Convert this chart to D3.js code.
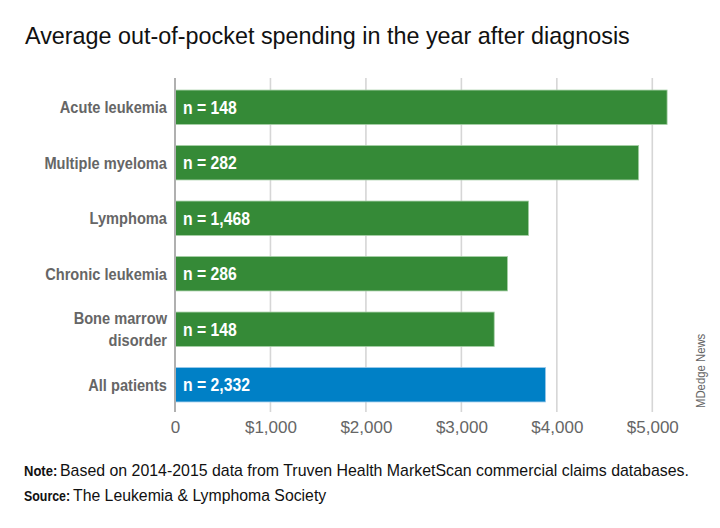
<!DOCTYPE html>
<html>
<head>
<meta charset="utf-8">
<script src="https://cdn.jsdelivr.net/npm/d3@7/dist/d3.min.js"></script>
<style>
  html, body { margin: 0; padding: 0; background: #fff; }
  svg { display: block; }
</style>
</head>
<body>
<svg id="chart" width="720" height="528"></svg>
<script>
// ---- Data ----
const categories = ["Acute leukemia", "Multiple myeloma", "Lymphoma", "Chronic leukemia", "Bone marrow disorder", "All patients"];
const categoryLines = [["Acute leukemia"], ["Multiple myeloma"], ["Lymphoma"], ["Chronic leukemia"], ["Bone marrow", "disorder"], ["All patients"]];
const spending = [5155, 4857, 3704, 3483, 3344, 3882];
const sampleLabels = ["n = 148", "n = 282", "n = 1,468", "n = 286", "n = 148", "n = 2,332"];
const tickValues = [0, 1000, 2000, 3000, 4000, 5000];
const tickLabels = ["0", "$1,000", "$2,000", "$3,000", "$4,000", "$5,000"];
const barColors = ["#358a37", "#358a37", "#358a37", "#358a37", "#358a37", "#0080c6"];

const titleText = "Average out-of-pocket spending in the year after diagnosis";
const noteText = "Based on 2014-2015 data from Truven Health MarketScan commercial claims databases.";
const sourceText = "The Leukemia & Lymphoma Society";
const creditText = "MDedge News";

// ---- Layout ----
const svg = d3.select("#chart");
const sans = "'Liberation Sans', Arial, sans-serif";

const x = d3.scaleLinear().domain([0, 5000]).range([175, 652.3]);
const y = d3.scaleBand().domain(categories).range([79.5, 412.5]).paddingInner(0.38).paddingOuter(0.19);

// Title
svg.append("text")
  .attr("transform", "translate(25,43.5) scale(0.9,1)")
  .attr("font-family", sans).attr("font-size", 24)
  .attr("fill", "#111")
  .attr("textLength", 672).attr("lengthAdjust", "spacingAndGlyphs")
  .text(titleText);

// Gridlines
svg.append("g").selectAll("line")
  .data(tickValues.slice(1))
  .join("line")
  .attr("x1", d => x(d)).attr("x2", d => x(d))
  .attr("y1", 78).attr("y2", 412)
  .attr("stroke", "#d6d6d6").attr("stroke-width", 1.6);

// Bars
svg.append("g").selectAll("rect")
  .data(categories)
  .join("rect")
  .attr("x", x(0))
  .attr("y", d => y(d))
  .attr("width", (d, i) => x(spending[i]) - x(0))
  .attr("height", y.bandwidth())
  .attr("fill", (d, i) => barColors[i])
  .attr("stroke", (d, i) => i === 5 ? "#9cc9ea" : "#a6cfa6")
  .attr("stroke-width", 0.8);

// Zero axis line
svg.append("line")
  .attr("x1", x(0)).attr("x2", x(0))
  .attr("y1", 78).attr("y2", 412)
  .attr("stroke", "#b0b0b0").attr("stroke-width", 2);

// n labels inside bars
svg.append("g").selectAll("text")
  .data(categories)
  .join("text")
  .attr("transform", d => `translate(${x(0) + 8},${y(d) + y.bandwidth() / 2}) scale(0.9,1)`)
  .attr("dy", "0.36em")
  .attr("font-family", sans).attr("font-weight", "bold").attr("font-size", 17.5)
  .attr("fill", "#fff")
  .text((d, i) => sampleLabels[i]);

// Category labels
const catG = svg.append("g");
categories.forEach((c, i) => {
  const lines = categoryLines[i];
  const cy = y(c) + y.bandwidth() / 2;
  lines.forEach((ln, j) => {
    const off = (j - (lines.length - 1) / 2) * 22;
    catG.append("text")
      .attr("transform", `translate(167,${cy + off}) scale(0.86,1)`)
      .attr("text-anchor", "end")
      .attr("dy", "0.36em")
      .attr("font-family", sans).attr("font-weight", "bold").attr("font-size", 17)
      .attr("fill", "#666")
      .text(ln);
  });
});

// X axis tick labels (via d3 axis)
const axis = d3.axisBottom(x)
  .tickValues(tickValues)
  .tickFormat((d, i) => tickLabels[i])
  .tickSize(0)
  .tickPadding(0);
const ax = svg.append("g").attr("transform", "translate(0,421)").call(axis);
ax.select(".domain").remove();
ax.selectAll("text")
  .attr("font-family", sans).attr("font-size", 17)
  .attr("fill", "#666")
  .attr("dy", "0.71em");

// Credit (rotated)
svg.append("text")
  .attr("transform", "translate(705,408) rotate(-90) scale(0.84,1)")
  .attr("font-family", sans).attr("font-size", 13.5)
  .attr("fill", "#666")
  .text(creditText);

// Footnotes
svg.append("text")
  .attr("transform", "translate(24,476) scale(0.84,1)")
  .attr("font-family", sans).attr("font-weight", "bold").attr("font-size", 15.5).attr("fill", "#111")
  .text("Note:");
svg.append("text")
  .attr("x", 60).attr("y", 476)
  .attr("font-family", sans).attr("font-size", 15.9).attr("fill", "#111")
  .text(noteText);

svg.append("text")
  .attr("transform", "translate(24,501) scale(0.8,1)")
  .attr("font-family", sans).attr("font-weight", "bold").attr("font-size", 15.5).attr("fill", "#111")
  .text("Source:");
svg.append("text")
  .attr("x", 73).attr("y", 501)
  .attr("font-family", sans).attr("font-size", 15.8).attr("fill", "#111")
  .text(sourceText);
</script>
</body>
</html>
